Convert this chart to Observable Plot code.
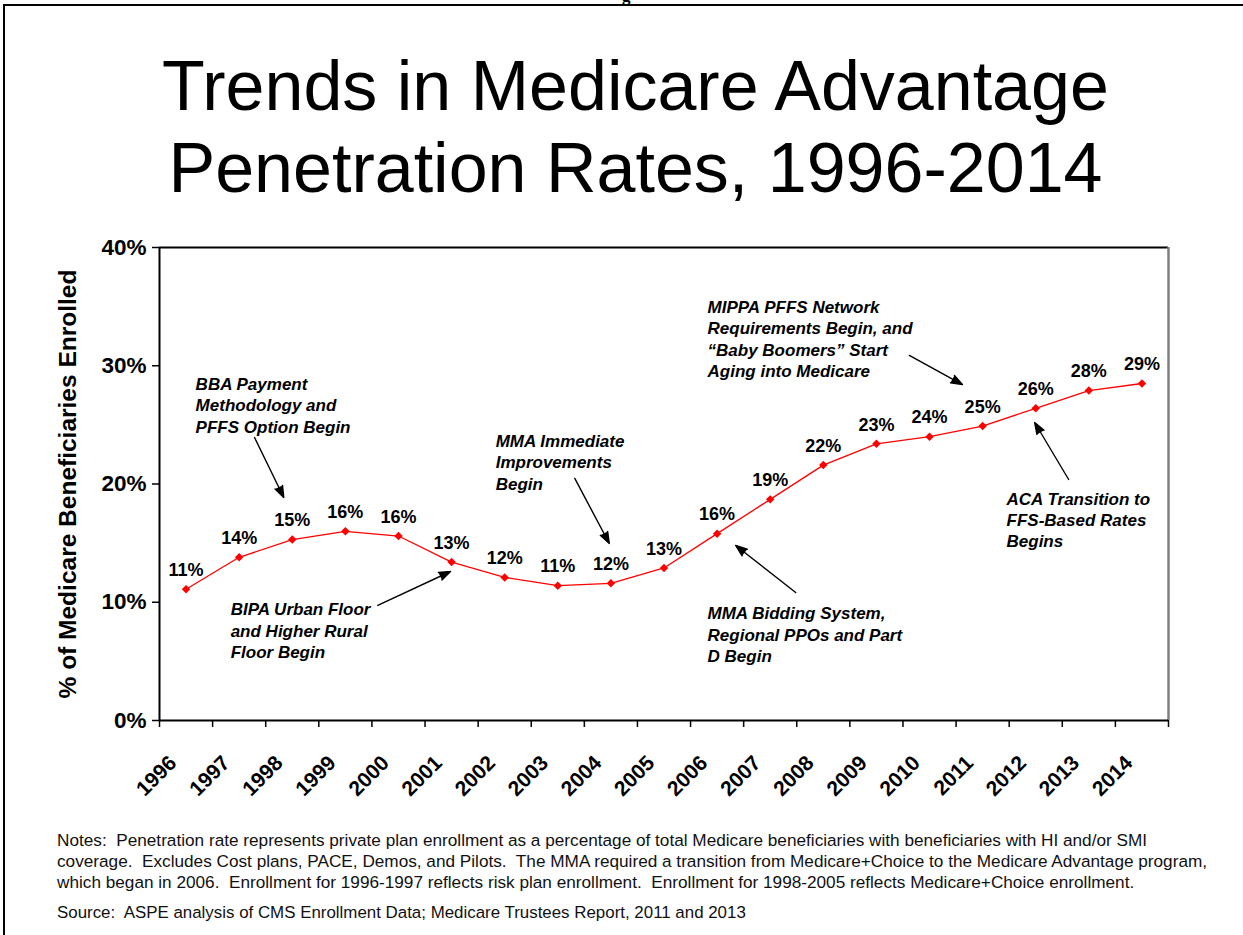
<!DOCTYPE html>
<html><head><meta charset="utf-8">
<script src="https://cdn.jsdelivr.net/npm/d3@7"></script>
<script src="https://cdn.jsdelivr.net/npm/@observablehq/plot@0.6"></script>
<style>
body{margin:0;background:#fff;font-family:"Liberation Sans",Arial,sans-serif;}
#page{position:relative;width:1243px;height:935px;overflow:hidden;background:#fff;}
.frame{position:absolute;left:3px;top:4px;width:1300px;height:1000px;border-left:2.5px solid #000;border-top:2.5px solid #000;}
.frag{position:absolute;left:622px;top:-14px;font-family:"Liberation Serif",serif;font-weight:bold;font-size:17px;}
.title{position:absolute;left:14px;top:45px;width:1243px;text-align:center;font-size:70px;line-height:82px;color:#000;}
#chart{position:absolute;left:0;top:230px;}
.notes{position:absolute;left:57px;font-size:17.2px;line-height:21px;color:#111;white-space:pre;}
</style></head><body>
<div id="page">
  <div class="frag">g</div>
  <div class="frame"></div>
  <div class="title">Trends in Medicare Advantage<br>Penetration Rates, 1996-2014</div>
  <div id="chart"></div>
  <div class="notes" id="notes" style="top:830px"></div>
  <div class="notes" id="source" style="top:902px;font-size:16.9px"></div>
</div>
<script>
// ---- data ----
const years = [1996,1997,1998,1999,2000,2001,2002,2003,2004,2005,2006,2007,2008,2009,2010,2011,2012,2013,2014];
const rates = [11.1,13.8,15.3,16.0,15.6,13.4,12.1,11.4,11.6,12.9,15.8,18.7,21.6,23.4,24.0,24.9,26.4,27.9,28.5];
const rateLabels = ["11%","14%","15%","16%","16%","13%","12%","11%","12%","13%","16%","19%","22%","23%","24%","25%","26%","28%","29%"];
const yTicks = [0,10,20,30,40];
const yTitle = "% of Medicare Beneficiaries Enrolled";

const annoText = [
  "BBA Payment\nMethodology and\nPFFS Option Begin",
  "BIPA Urban Floor\nand Higher Rural\nFloor Begin",
  "MMA Immediate\nImprovements\nBegin",
  "MMA Bidding System,\nRegional PPOs and Part\nD Begin",
  "MIPPA PFFS Network\nRequirements Begin, and\n\u201CBaby Boomers\u201D Start\nAging into Medicare",
  "ACA Transition to\nFFS-Based Rates\nBegins"
];
const annoX = [1996.18, 1996.84, 2001.83, 2005.82, 2005.82, 2011.45];
const annoY = [29.18, 10.15, 24.36, 9.81, 35.69, 19.53];
const arrowX1 = [1997.29, 1999.61, 2003.32, 2007.48, 2009.62, 2012.62];
const arrowY1 = [23.93, 9.73, 20.47, 10.82, 30.87, 20.38];
const arrowX2 = [1997.84, 2000.98, 2003.97, 2006.35, 2010.62, 2011.98];
const arrowY2 = [18.86, 12.6, 14.97, 14.8, 28.41, 25.2];

const noteLines = [
  "Notes:  Penetration rate represents private plan enrollment as a percentage of total Medicare beneficiaries with beneficiaries with HI and/or SMI",
  "coverage.  Excludes Cost plans, PACE, Demos, and Pilots.  The MMA required a transition from Medicare+Choice to the Medicare Advantage program,",
  "which began in 2006.  Enrollment for 1996-1997 reflects risk plan enrollment.  Enrollment for 1998-2005 reflects Medicare+Choice enrollment."
];
const sourceLine = "Source:  ASPE analysis of CMS Enrollment Data; Medicare Trustees Report, 2011 and 2013";

// ---- build ----
const series = years.map((y,i)=>({year:y, rate:rates[i], label:rateLabels[i]}));
const annos = annoText.map((t,i)=>({text:t, x:annoX[i], y:annoY[i], x1:arrowX1[i], y1:arrowY1[i], x2:arrowX2[i], y2:arrowY2[i]}));
const x0 = years[0]-0.5, xN = years[years.length-1]+0.5;
const edges = years.map(y=>y-0.5).concat([xN]);
const yMax = yTicks[yTicks.length-1];

const chart = Plot.plot({
  width:1243, height:580,
  marginTop:17, marginBottom:90, marginLeft:159, marginRight:75,
  x:{domain:[x0,xN], axis:null},
  y:{domain:[0,yMax], axis:null},
  style:{fontFamily:"'Liberation Sans', Arial, sans-serif", color:"#000", background:"transparent", overflow:"visible"},
  marks:[
    Plot.ruleY([yMax], {stroke:"#000", strokeWidth:2}),
    Plot.ruleX([xN], {stroke:"#808080", strokeWidth:2.5}),
    Plot.axisY({ticks:yTicks, tickSize:7, tickPadding:6, tickFormat:d=>d+"%", fontSize:22.5, fontWeight:"bold", label:null, strokeWidth:1.5}),
    Plot.axisX({ticks:edges, tickSize:7, tickFormat:()=>"", label:null, strokeWidth:1.5}),
    Plot.axisX({ticks:years, tickSize:0, tickPadding:0, tickRotate:-45, tickFormat:d=>String(d), fontSize:21, fontWeight:"bold", label:null, dx:-13, dy:39}),
    Plot.ruleX([x0], {stroke:"#000", strokeWidth:2}),
    Plot.ruleY([0], {stroke:"#000", strokeWidth:2}),
    Plot.text([yTitle], {frameAnchor:"left", textAnchor:"middle", rotate:-90, dx:-91, text:d=>d, fontSize:24.5, fontWeight:"bold"}),
    Plot.line(series, {x:"year", y:"rate", stroke:"#ff0000", strokeWidth:1.3}),
    Plot.dot(series, {x:"year", y:"rate", symbol:"diamond2", r:3.8, fill:"#ff0000", stroke:"none"}),
    Plot.text(series, {x:"year", y:"rate", text:"label", dy:-19, fontSize:18, fontWeight:"bold"}),
    Plot.text(annos, {x:"x", y:"y", text:"text", textAnchor:"start", lineAnchor:"top", lineHeight:1.24, fontSize:17, fontWeight:"bold", fontStyle:"italic"}),
    Plot.arrow(annos, {x1:"x1", y1:"y1", x2:"x2", y2:"y2", headLength:13, headAngle:40, fill:"#000", stroke:"#000", strokeWidth:1.4})
  ]
});
document.getElementById("chart").appendChild(chart);
document.getElementById("notes").textContent = noteLines.join("\n");
document.getElementById("source").textContent = sourceLine;
</script>
</body></html>
